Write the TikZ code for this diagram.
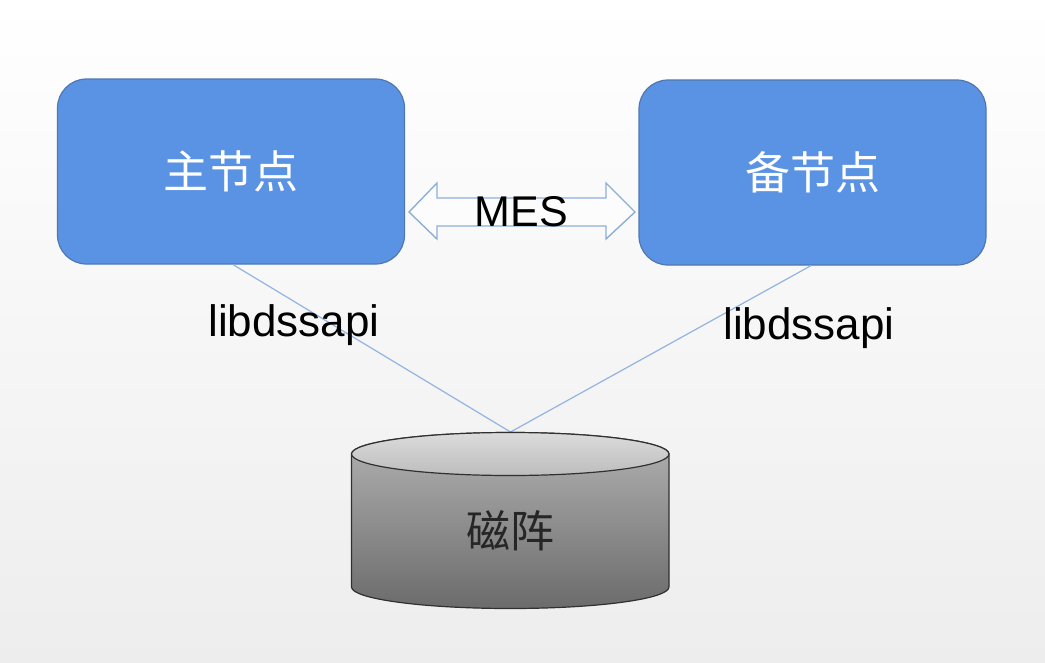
\documentclass[tikz,border=0pt]{standalone}
\usepackage{fontspec}
\setmainfont{Liberation Sans}
\newfontfamily\cjk{Noto Sans CJK SC}
\definecolor{boxblue}{HTML}{5B93E4}
\definecolor{boxedge}{HTML}{4F78B0}
\definecolor{linkblue}{HTML}{92B4E0}
\definecolor{arrowedge}{HTML}{8CAFD8}
\definecolor{diskedge}{HTML}{303030}
\begin{document}
\begin{tikzpicture}[x=1pt,y=-1pt,
 mainbox/.style={draw=boxedge,line width=1.2pt,fill=boxblue,rounded corners=29pt,minimum width=347pt,minimum height=185pt,inner sep=0pt,text=white,font=\cjk\fontsize{45}{45}\selectfont},
 link/.style={draw=linkblue,line width=1.2pt},
 latin/.style={text=black,font=\fontsize{44}{44}\selectfont,inner sep=0pt},
 disktext/.style={text=black!85,font=\cjk\fontsize{44}{44}\selectfont,inner sep=0pt}]
\useasboundingbox (0,0) rectangle (1045,662);
\shade[top color=white,bottom color=black!7] (0,0) rectangle (1045,662);
\coordinate (diskTop) at (510.5,432);
\node[mainbox] (a) at (231,171.5) {主节点};
\node[mainbox] (b) at (812.5,172.5) {备节点};
\draw[link] ([xshift=2pt]a.south) -- (diskTop);
\draw[link] ([xshift=-1.5pt]b.south) -- (diskTop);
% double arrow
\draw[draw=arrowedge,line width=1.4pt,fill=white!60!black!3] (409,212) -- (437,183) -- (437,198) -- (606,198) -- (606,183) -- (635,212) -- (606,239) -- (606,226) -- (437,226) -- (437,239) -- cycle;
\node[latin,font=\fontsize{43}{43}\selectfont] (mes) at (521.5,211.5) {MES};
\node[latin] (la) at (294,325) {libdssapi};
\node[latin] (lb) at (809,328) {libdssapi};
% cylinder
\shade[top color=black!30,bottom color=black!58,draw=diskedge,line width=1.2pt]
 (351.5,454) -- (351.5,587) arc[start angle=180,end angle=360,x radius=158.75,y radius=-21.5] -- (669,454) arc[start angle=0,end angle=180,x radius=158.75,y radius=-21.5] -- cycle;
\shade[top color=black!14,bottom color=black!26,draw=diskedge,line width=1.2pt] (510.25,454) ellipse[x radius=158.75,y radius=21.5];
\node[disktext] (d) at (510,531) {磁阵};
\end{tikzpicture}
\end{document}
